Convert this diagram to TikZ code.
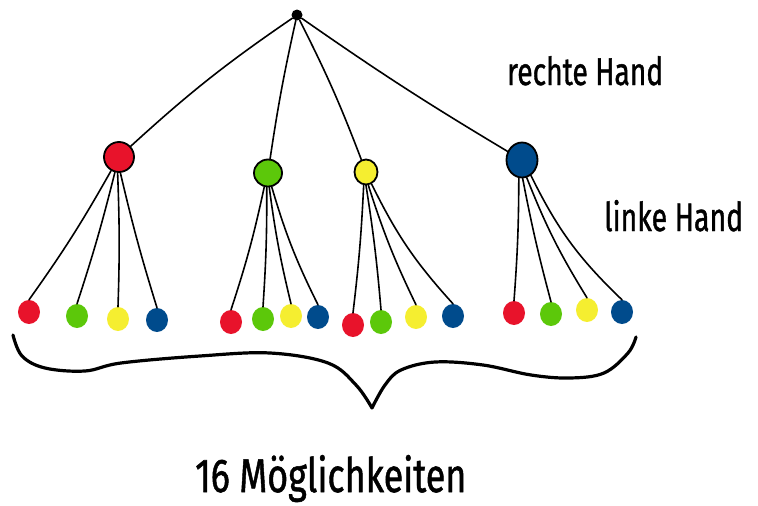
\documentclass[tikz,border=0pt]{standalone}
\usepackage{fontspec}
\usepackage{graphicx}
\setmainfont{Fira Sans}
\newfontfamily\handfont{Fira Sans}[FakeBold=1.2]
\usetikzlibrary{shapes.geometric}
\definecolor{cred}{HTML}{E8132B}
\definecolor{cgreen}{HTML}{5CC80A}
\definecolor{cyellow}{HTML}{F5EE30}
\definecolor{cblue}{HTML}{004B8C}
\tikzset{
  mid/.style={ellipse, draw=black, line width=1.8pt, inner sep=0pt},
  leaf/.style={ellipse, inner sep=0pt, minimum width=22pt, minimum height=24pt},
  edge/.style={line width=1.6pt, line cap=round},
  hand/.style={inner sep=0pt, anchor=base west, font=\handfont}
}
\begin{document}
\begin{tikzpicture}[x=1pt, y=-1pt]
\useasboundingbox (0,0) rectangle (758,506);

% root and the four choices of the right hand
\node[circle, fill=black, inner sep=0pt, minimum size=11pt] (root) at (297,15) {};
\node[mid, fill=cred,    minimum width=30pt, minimum height=30pt] (mr) at (119,157) {};
\node[mid, fill=cgreen,  minimum width=28pt, minimum height=27pt] (mg) at (268,173) {};
\node[mid, fill=cyellow, minimum width=23pt, minimum height=25pt] (my) at (366,172) {};
\node[mid, fill=cblue,   minimum width=31pt, minimum height=35pt] (mb) at (522,160) {};

\draw[edge] (root) to[bend right=4] (mr);
\draw[edge] (root) to[bend right=2] (mg);
\draw[edge] (root) to[bend left=3] (my);
\draw[edge] (root) to[bend right=2] (mb);

% leaves: choices of the left hand
\node[leaf, fill=cred]    (r1) at (29,312) {};
\node[leaf, fill=cgreen]  (g1) at (77,316) {};
\node[leaf, fill=cyellow] (y1) at (118,319) {};
\node[leaf, fill=cblue]   (b1) at (157,320) {};

\node[leaf, fill=cred]    (r2) at (231,322) {};
\node[leaf, fill=cgreen]  (g2) at (263,319) {};
\node[leaf, fill=cyellow] (y2) at (291,316) {};
\node[leaf, fill=cblue]   (b2) at (318,317) {};

\node[leaf, fill=cred]    (r3) at (353,325) {};
\node[leaf, fill=cgreen]  (g3) at (381,322) {};
\node[leaf, fill=cyellow] (y3) at (416,317) {};
\node[leaf, fill=cblue]   (b3) at (453,316) {};

\node[leaf, fill=cred]    (r4) at (514,313) {};
\node[leaf, fill=cgreen]  (g4) at (551,314) {};
\node[leaf, fill=cyellow] (y4) at (587,310) {};
\node[leaf, fill=cblue]   (b4) at (622,312) {};

\draw[edge] (mr.-120) to[bend left=3] (r1.north);
\draw[edge] (mr.-105) to[bend left=2] (g1.north);
\draw[edge] (mr.-95)  to[bend left=2] (y1.north);
\draw[edge] (mr.-85)  to[bend right=2] (b1.north);

\draw[edge] (mg.-105) to[bend left=3] (r2.north);
\draw[edge] (mg.-95)  to[bend left=2] (g2.north);
\draw[edge] (mg.-85)  to[bend right=3] (y2.north);
\draw[edge] (mg.-75)  to[bend right=5] (b2.north);

\draw[edge] (my.-100) to[bend left=2] (r3.north);
\draw[edge] (my.-90)  to[bend left=2] (g3.north);
\draw[edge] (my.-80)  to[bend right=4] (y3.north);
\draw[edge] (my.-65)  to[bend right=8] (b3.north);

\draw[edge] (mb.-100) to[bend left=2] (r4.north);
\draw[edge] (mb.-88)  to[bend right=2] (g4.north);
\draw[edge] (mb.-75)  to[bend right=5] (y4.north);
\draw[edge] (mb.-60)  to[bend right=10] (b4.north);

% curly brace under the leaves
\draw[line width=3.2pt, line cap=round, line join=round]
  plot[smooth, tension=0.6] coordinates {(13,335) (22,356) (45,368) (85,371) (121,363)
    (200,356) (270,353) (328,363) (356,385) (372,408)}
  plot[smooth, tension=0.6] coordinates {(372,408) (385,385) (401,370) (435,362)
    (483,365) (531,375) (570,378) (604,373) (628,353) (636,337)};

% labels
\node[hand] (lr) at (507,85) {\resizebox{156pt}{29pt}{rechte Hand}};
\node[hand] (ll) at (604,231) {\resizebox{139pt}{31pt}{linke Hand}};
\node[hand] (lm) at (195,492) {\resizebox{271pt}{37pt}{16 Möglichkeiten}};
\end{tikzpicture}
\end{document}
